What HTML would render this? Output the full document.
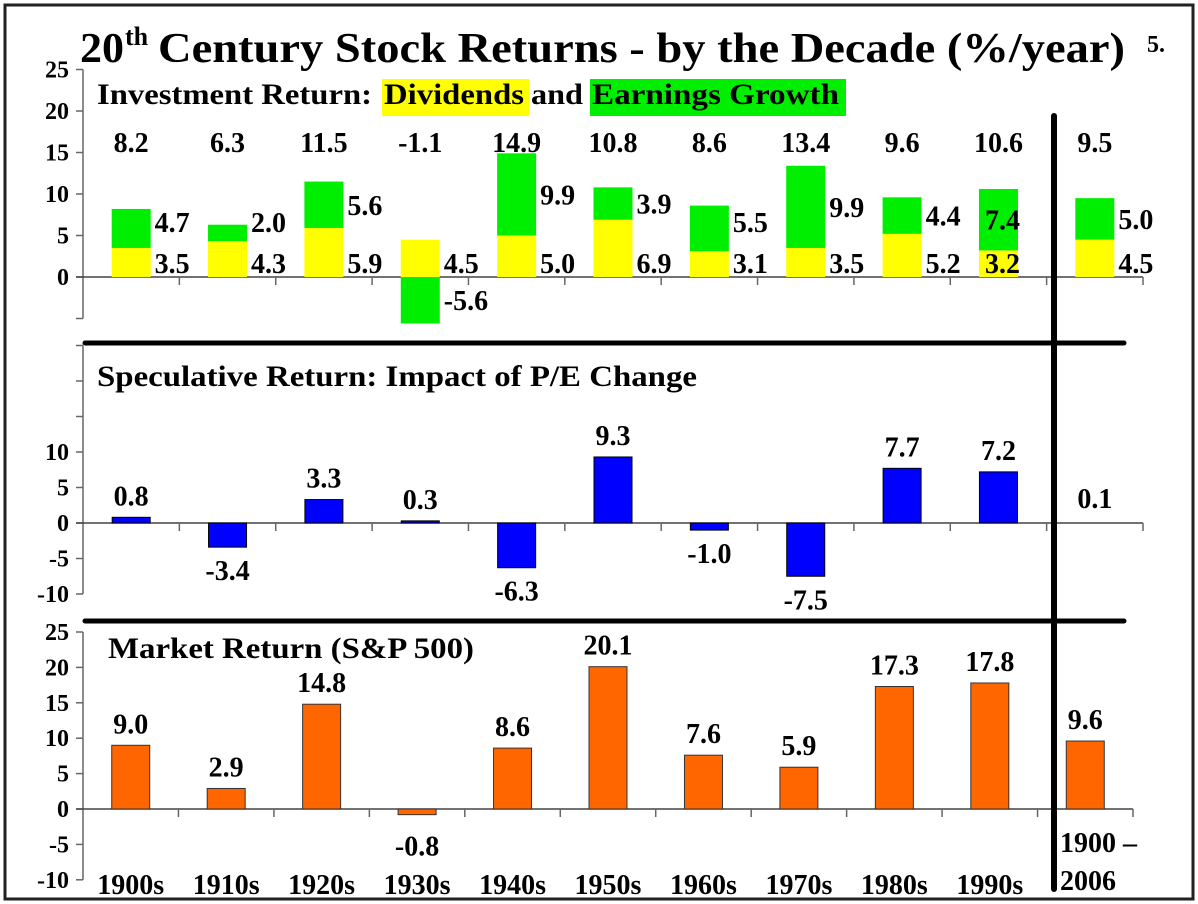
<!DOCTYPE html>
<html><head><meta charset="utf-8">
<style>
body{margin:0;background:#fff;}
svg{display:block;}
svg text, svg tspan{font-family:"Liberation Serif","DejaVu Serif",serif;font-weight:bold;}
</style></head>
<body>
<svg id="c" width="1198" height="904" viewBox="0 0 1198 904">
<rect x="5" y="5" width="1188" height="894" fill="#fff" stroke="#222" stroke-width="3"/>
<text x="80" y="62" font-size="42" textLength="44" lengthAdjust="spacingAndGlyphs">20</text>
<text x="125" y="45" font-size="26">th</text>
<text x="158" y="62" font-size="42" textLength="967" lengthAdjust="spacingAndGlyphs">Century Stock Returns - by the Decade (%/year)</text>
<text x="1147" y="52" font-size="24">5.</text>
<rect x="382" y="79" width="147" height="37" fill="#ffff00"/>
<rect x="590" y="79" width="256" height="37" fill="#00ee00"/>
<text x="97" y="104" font-size="30" textLength="275" lengthAdjust="spacingAndGlyphs">Investment Return:</text>
<text x="384" y="104" font-size="30" textLength="140" lengthAdjust="spacingAndGlyphs">Dividends</text>
<text x="531" y="104" font-size="30" textLength="52" lengthAdjust="spacingAndGlyphs">and</text>
<text x="592" y="104" font-size="30" textLength="247" lengthAdjust="spacingAndGlyphs">Earnings Growth</text>
<text x="97" y="386" font-size="30" textLength="600" lengthAdjust="spacingAndGlyphs">Speculative Return: Impact of P/E Change</text>
<text x="108" y="658" font-size="30" textLength="366" lengthAdjust="spacingAndGlyphs">Market Return (S&amp;P 500)</text>
<g id="g"></g>
</svg>
<script>
const categories=["1900s","1910s","1920s","1930s","1940s","1950s","1960s","1970s","1980s","1990s","1900–2006"];
const dividends=[3.5,4.3,5.9,4.5,5.0,6.9,3.1,3.5,5.2,3.2,4.5];
const earnings=[4.7,2.0,5.6,-5.6,9.9,3.9,5.5,9.9,4.4,7.4,5.0];
const totals=[8.2,6.3,11.5,-1.1,14.9,10.8,8.6,13.4,9.6,10.6,9.5];
const speculative=[0.8,-3.4,3.3,0.3,-6.3,9.3,-1.0,-7.5,7.7,7.2,0.1];
const market=[9.0,2.9,14.8,-0.8,8.6,20.1,7.6,5.9,17.3,17.8,9.6];
const topTicks=[25,20,15,10,5,0,-5];
const topLabels=["25","20","15","10","5","0",""];
const midTicks=[25,20,15,10,5,0,-5,-10];
const midLabels=["","","","10","5","0","-5","-10"];
const botTicks=[25,20,15,10,5,0,-5,-10];
const botLabels=["25","20","15","10","5","0","-5","-10"];

const FS=28;
const NS="http://www.w3.org/2000/svg";
const g=document.getElementById('g');
function el(tag,attrs,text){const e=document.createElementNS(NS,tag);for(const k in attrs)e.setAttribute(k,attrs[k]);if(text!==undefined)e.textContent=text;g.appendChild(e);return e;}
const X0=83;
function panel(zeroY,ppu,xEnd,ticks,labels,name){
  const yf=v=>zeroY-v*ppu;
  const bw=(xEnd-X0)/categories.length;
  const xc=i=>X0+bw*(i+0.5);
  const ax=el('line',{x1:X0,x2:X0,y1:yf(ticks[0]),y2:yf(ticks[ticks.length-1]),stroke:'#666','stroke-width':1.5});
  
  ticks.forEach((t,k)=>{
    const tl=el('line',{x1:X0-7,x2:X0,y1:yf(t),y2:yf(t),stroke:'#666','stroke-width':1.5});
    
    if(labels[k]){const tx=el('text',{x:X0-14,y:yf(t)+8,'font-size':24,'text-anchor':'end'},labels[k]);
      }
  });
  const xa=el('line',{x1:X0-7,x2:xEnd,y1:zeroY,y2:zeroY,stroke:'#444','stroke-width':1.5});
  
  for(let i=1;i<=categories.length;i++){
    const tk=el('line',{x1:X0+bw*i,x2:X0+bw*i,y1:zeroY,y2:zeroY+8,stroke:'#666','stroke-width':1.5});
    
  }
  return {yf,xc,bw};
}
// top panel
const T=panel(277,8.3,1143,topTicks,topLabels,'investment');
categories.forEach((c,i)=>{
  const x=T.xc(i)-19.5,w=39;
  const d=dividends[i],e=earnings[i];
  const yb=el('rect',{x:x,y:T.yf(d),width:w,height:d*8.3,fill:'#ffff00'});
  
  let gy,gh;
  if(e>=0){gy=T.yf(d+e);gh=e*8.3;}else{gy=T.yf(0);gh=-e*8.3;}
  const gb=el('rect',{x:x,y:gy,width:w,height:gh,fill:'#00ee00'});
  
  const lx=i===9?x+6:x+w+4;
  const ey=e>=0?Math.min(T.yf(d+e/2),222)+10:T.yf(e/2)+10;
  const el1=el('text',{x:lx,y:ey,'font-size':FS},e.toFixed(1));
  
  const dl=el('text',{x:lx,y:273,'font-size':FS},d.toFixed(1));
  
  const tl=el('text',{x:T.xc(i),y:152,'font-size':FS,'text-anchor':'middle'},totals[i].toFixed(1));
  
});
// middle panel
const M=panel(523,7.1,1143,midTicks,midLabels,'speculative');
categories.forEach((c,i)=>{
  const v=speculative[i],x=M.xc(i)-19,w=38;
  if(i<10){const b=el('rect',{x:x,y:v>=0?M.yf(v):M.yf(0),width:w,height:Math.abs(v)*7.1,fill:'#0000ff',stroke:'#000','stroke-width':1});
  }
  const ly=v>=0?M.yf(v)-12:M.yf(v)+33;
  const lb=el('text',{x:M.xc(i),y:i===10?508:ly,'font-size':FS,'text-anchor':'middle'},v.toFixed(1));
  
});
// bottom panel
const B=panel(809,7.08,1133,botTicks,botLabels,'market');
categories.forEach((c,i)=>{
  const v=market[i],x=B.xc(i)-19,w=38;
  const b=el('rect',{x:x,y:v>=0?B.yf(v):B.yf(0),width:w,height:Math.abs(v)*7.08,fill:'#ff6600',stroke:'#333','stroke-width':1});
  
  const ly=v>=0?B.yf(v)-12:B.yf(v)+41;
  const lb=el('text',{x:B.xc(i),y:ly,'font-size':FS,'text-anchor':'middle'},v.toFixed(1));
  
  if(i<10){const xl=el('text',{x:B.xc(i),y:894,'font-size':FS,'text-anchor':'middle'},c);
    }
});
const a1=el('text',{x:1060,y:852,'font-size':FS},'1900 –');

const a2=el('text',{x:1060,y:890,'font-size':FS},'2006');

// divider lines
const h1=el('line',{x1:85,x2:1124,y1:343,y2:343,stroke:'#000','stroke-width':5,'stroke-linecap':'round'});

const h2=el('line',{x1:85,x2:1124,y1:621,y2:621,stroke:'#000','stroke-width':5,'stroke-linecap':'round'});

const v1=el('line',{x1:1054,x2:1054,y1:116,y2:889,stroke:'#000','stroke-width':6,'stroke-linecap':'round'});

</script>
</body></html>
